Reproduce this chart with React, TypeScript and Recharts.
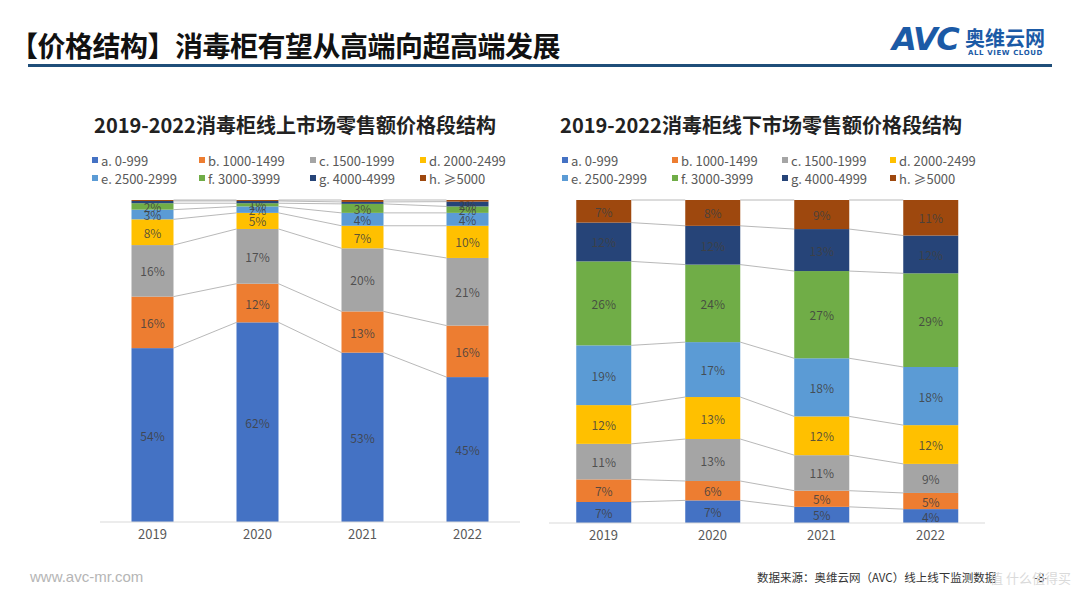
import React from 'react';
import { BarChart, Bar, XAxis, YAxis } from 'recharts';

const categories = ['2019', '2020', '2021', '2022'];
const seriesKeys = ['a', 'b', 'c', 'd', 'e', 'f', 'g', 'h'];
const seriesNames = ['a. 0-999', 'b. 1000-1499', 'c. 1500-1999', 'd. 2000-2499', 'e. 2500-2999', 'f. 3000-3999', 'g. 4000-4999', 'h. ≥5000'];
const seriesColors = ['#4472C4', '#ED7D31', '#A5A5A5', '#FFC000', '#5B9BD5', '#70AD47', '#264478', '#9E480E'];

// 线上 (online) shares, %
const onlineA = [54, 62, 52.6, 45];
const onlineB = [16, 12, 12.8, 16];
const onlineC = [16, 17, 19.6, 21];
const onlineD = [8, 5, 7, 10];
const onlineE = [3, 2, 4, 4];
const onlineF = [2, 1, 2.8, 2];
const onlineG = [0.7, 0.7, 0.6, 1.5];
const onlineH = [0.3, 0.3, 0.6, 0.5];

// 线下 (offline) shares, %
const offlineA = [6.5, 7, 5, 4.3];
const offlineB = [7, 6, 5, 5];
const offlineC = [11, 13, 11, 9];
const offlineD = [12, 13, 12, 12];
const offlineE = [18.5, 17, 18, 18];
const offlineF = [26, 24, 27, 29];
const offlineG = [12, 12, 13, 11.7];
const offlineH = [7, 8, 9, 11];

const onlineSeries = [onlineA, onlineB, onlineC, onlineD, onlineE, onlineF, onlineG, onlineH];
const offlineSeries = [offlineA, offlineB, offlineC, offlineD, offlineE, offlineF, offlineG, offlineH];

const buildRows = (series: number[][]) =>
  categories.map((year, i) => {
    const row: any = { year };
    seriesKeys.forEach((k, j) => {
      row[k] = series[j][i];
    });
    return row;
  });

const onlineRows = buildRows(onlineSeries);
const offlineRows = buildRows(offlineSeries);

const FONT = '"Noto Sans CJK SC", "Noto Sans", sans-serif';

const cumTo = (row: any, idx: number) => {
  let s = 0;
  for (let j = 0; j <= idx; j++) s += row[seriesKeys[j]];
  return s;
};

type ChartProps = {
  rows: any[];
  width: number;
  height: number;
  margin: { top: number; right: number; bottom: number; left: number };
  gap: string;
  labelMin: number;
};

const AXIS_H = 30;

const StackedChart = ({ rows, width, height, margin, gap, labelMin }: ChartProps) => {
  const plotW = width - margin.left - margin.right;
  const plotH = height - margin.top - margin.bottom - AXIS_H;
  const step = plotW / rows.length;
  const kPx = plotH / 100;

  const makeShape = (keyIdx: number) => (props: any) => {
    const { x, y, width: w, height: h, index, fill } = props;
    const row = rows[index];
    const next = rows[index + 1];
    const key = seriesKeys[keyIdx];
    const v = row[key];
    let line = null;
    if (next) {
      const yNext = y - (cumTo(next, keyIdx) - cumTo(row, keyIdx)) * kPx;
      line = (
        <line x1={x + w} y1={y} x2={x + step} y2={yNext} stroke="#A6A6A6" strokeWidth={0.8} />
      );
    }
    return (
      <g>
        <rect x={x} y={y} width={w} height={h} fill={fill} />
        {line}
        {v >= labelMin ? (
          <text
            x={x + w / 2}
            y={y + h / 2}
            textAnchor="middle"
            dominantBaseline="central"
            fontSize={12}
            fontFamily={FONT}
            fill="#404040"
            fillOpacity={0.85}
          >
            {Math.round(v)}%
          </text>
        ) : null}
      </g>
    );
  };

  return (
    <BarChart width={width} height={height} data={rows} margin={margin} barCategoryGap={gap}>
      <XAxis
        dataKey="year"
        height={AXIS_H}
        tickLine={false}
        axisLine={{ stroke: '#D9D9D9', strokeWidth: 1 }}
        tick={{ fill: '#595959', fontSize: 13, fontFamily: FONT }}
      />
      <YAxis hide domain={[0, 100]} type="number" />
      {seriesKeys.map((k, i) => (
        <Bar
          key={k}
          dataKey={k}
          stackId="s"
          fill={seriesColors[i]}
          isAnimationActive={false}
          shape={makeShape(i)}
        />
      ))}
    </BarChart>
  );
};

const Legend = ({ left, cols }: { left: number; cols: number[] }) => (
  <>
    {seriesNames.map((name, i) => {
      const col = i % 4;
      const row = Math.floor(i / 4);
      const cy = row === 0 ? 160 : 178;
      return (
        <div
          key={name}
          style={{
            position: 'absolute',
            left: left + cols[col],
            top: cy - 9,
            height: 18,
            display: 'flex',
            alignItems: 'center',
            whiteSpace: 'nowrap',
            fontFamily: FONT,
            fontSize: 13,
            color: '#595959',
          }}
        >
          <span style={{ width: 6, height: 6, background: seriesColors[i], marginRight: 3, display: 'inline-block' }} />
          {name}
        </div>
      );
    })}
  </>
);

export default function App() {
  return (
    <div
      style={{
        position: 'absolute',
        left: 0,
        top: 0,
        width: 1080,
        height: 608,
        background: '#FFFFFF',
        overflow: 'hidden',
        fontFamily: FONT,
      }}
    >
      {/* header */}
      <div
        style={{
          position: 'absolute',
          left: 10,
          top: 27,
          fontSize: 28,
          lineHeight: '36px',
          fontWeight: 700,
          color: '#111',
          letterSpacing: -0.5,
        }}
      >
        【价格结构】消毒柜有望从高端向超高端发展
      </div>
      <div style={{ position: 'absolute', left: 28, top: 64, width: 1024, height: 3, background: '#1F4E79' }} />

      {/* logo */}
      <div
        style={{
          position: 'absolute',
          left: 892,
          top: 21,
          fontSize: 32,
          lineHeight: '36px',
          fontWeight: 900,
          fontStyle: 'italic',
          color: '#1B5AA6',
          fontFamily: '"DejaVu Sans", sans-serif',
          letterSpacing: -1.5,
        }}
      >
        AVC
      </div>
      <div
        style={{
          position: 'absolute',
          left: 965,
          top: 26,
          fontSize: 20,
          lineHeight: '24px',
          fontWeight: 700,
          color: '#1B5AA6',
        }}
      >
        奥维云网
      </div>
      <div
        style={{
          position: 'absolute',
          left: 968,
          top: 49,
          fontSize: 7,
          lineHeight: '9px',
          fontWeight: 700,
          color: '#1B5AA6',
          letterSpacing: 0.6,
          fontFamily: '"DejaVu Sans", sans-serif',
        }}
      >
        ALL VIEW CLOUD
      </div>

      {/* chart titles */}
      <div
        style={{
          position: 'absolute',
          left: 40,
          width: 510,
          top: 111,
          textAlign: 'center',
          fontSize: 20,
          lineHeight: '28px',
          fontWeight: 700,
          color: '#222',
        }}
      >
        2019-2022消毒柜线上市场零售额价格段结构
      </div>
      <div
        style={{
          position: 'absolute',
          left: 506,
          width: 510,
          top: 111,
          textAlign: 'center',
          fontSize: 20,
          lineHeight: '28px',
          fontWeight: 700,
          color: '#222',
        }}
      >
        2019-2022消毒柜线下市场零售额价格段结构
      </div>

      <Legend left={0} cols={[92, 199, 310, 420]} />
      <Legend left={0} cols={[562, 672, 782, 890]} />

      <div style={{ position: 'absolute', left: 0, top: 0 }}>
        <StackedChart
          rows={onlineRows}
          width={540}
          height={560}
          margin={{ top: 200, right: 20, bottom: 8, left: 100 }}
          gap="30%"
          labelMin={1}
        />
      </div>
      <div style={{ position: 'absolute', left: 540, top: 0 }}>
        <StackedChart
          rows={offlineRows}
          width={540}
          height={561}
          margin={{ top: 200, right: 95, bottom: 8, left: 9 }}
          gap="25%"
          labelMin={1}
        />
      </div>

      {/* footer */}
      <div
        style={{
          position: 'absolute',
          left: 30,
          top: 567,
          fontSize: 15,
          lineHeight: '20px',
          color: '#B5B5B5',
          fontFamily: '"Liberation Sans", Arial, sans-serif',
        }}
      >
        www.avc-mr.com
      </div>
      <div
        style={{
          position: 'absolute',
          left: 757,
          top: 569,
          fontSize: 11.5,
          lineHeight: '16px',
          color: '#333',
        }}
      >
        数据来源：奥维云网（AVC）线上线下监测数据
      </div>
      <div
        style={{
          position: 'absolute',
          left: 1034,
          top: 569,
          fontSize: 11.5,
          lineHeight: '16px',
          color: '#333',
        }}
      >
        -8-
      </div>
      <div
        style={{
          position: 'absolute',
          left: 990,
          top: 569,
          fontSize: 13,
          lineHeight: '18px',
          color: '#DADADA',
          whiteSpace: 'nowrap',
        }}
      >
        值 什么值得买
      </div>
    </div>
  );
}
